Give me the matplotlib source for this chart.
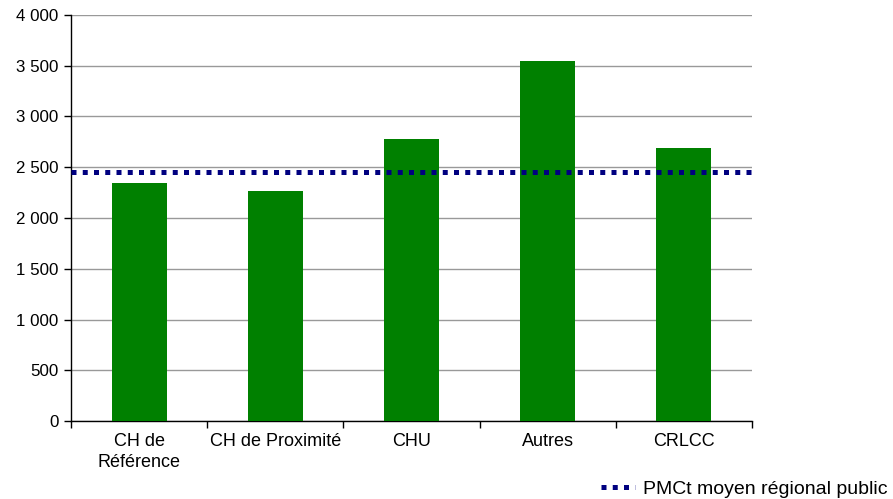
import numpy as np
import matplotlib.pyplot as plt
from matplotlib.ticker import FuncFormatter

# données
categories = ["CH de\nRéférence", "CH de Proximité", "CHU", "Autres", "CRLCC"]
pmct = [2345, 2266, 2778, 3547, 2690]
pmct_moyen_regional = 2450
legend_label = "PMCt moyen régional public"

plt.rcParams["font.family"] = ["Liberation Sans", "DejaVu Sans"]
plt.rcParams["font.size"] = 12

fig = plt.figure(figsize=(8.93, 4.99), dpi=100)
ax = fig.add_axes([71 / 893, 78 / 499, (752 - 71) / 893, (421 - 15) / 499])

index = np.arange(len(categories))
ax.bar(index, pmct, 0.405, color="#008000", zorder=3)

# ligne de la moyenne régionale
ax.axhline(pmct_moyen_regional, color="#000080", linewidth=3.6,
           linestyle=(0, (1, 1.25)), dash_capstyle="butt", zorder=4,
           label=legend_label)

ax.set_xlim(-0.5, len(categories) - 0.5)
ax.set_ylim(0, 4000)
ax.set_yticks(np.arange(0, 4001, 500))
ax.yaxis.set_major_formatter(FuncFormatter(lambda v, p: f"{int(v):,}".replace(",", " ")))
ax.grid(axis="y", color="#999999", linewidth=1, zorder=0)

# ticks x entre les catégories, labels au centre
ax.set_xticks(np.arange(-0.5, len(categories)), minor=False)
ax.set_xticklabels([])
ax.set_xticks(index, minor=True)
ax.set_xticklabels(categories, minor=True, fontsize=13, linespacing=1.3)
ax.tick_params(axis="x", which="minor", length=0, pad=9)
ax.tick_params(axis="x", which="major", direction="out", length=5, width=1)
ax.tick_params(axis="y", direction="out", length=5, width=1, pad=4, labelsize=12.2)

for s in ["top", "right"]:
    ax.spines[s].set_visible(False)
for s in ["left", "bottom"]:
    ax.spines[s].set_color("black")
    ax.spines[s].set_linewidth(1)

fig.legend(loc="lower right", bbox_to_anchor=(1.0, -0.01), frameon=False,
           fontsize=14, handlelength=1.75, handletextpad=0.4, borderpad=0.2,
           borderaxespad=0.1)

plt.savefig("out.png", dpi=100)
